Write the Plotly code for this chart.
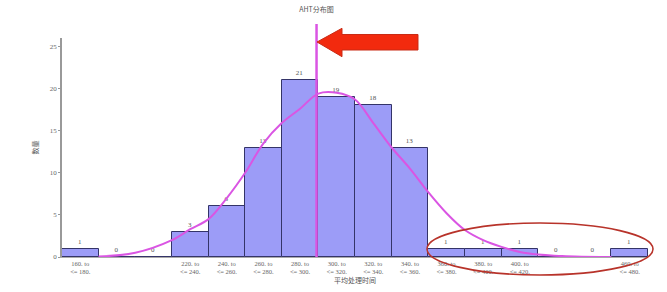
import plotly.graph_objects as go

# ---- data ----
bin_starts = [160, 180, 200, 220, 240, 260, 280, 300, 320, 340, 360, 380, 400, 420, 440, 460]
bin_width = 20
counts = [1, 0, 0, 3, 6, 13, 21, 19, 18, 13, 1, 1, 1, 0, 0, 1]

curve_x = [180, 200, 220, 230, 240, 250, 260, 270, 280, 290, 300, 310, 320, 330, 340,
           350, 360, 370, 380, 390, 400, 410, 420, 440, 460]
curve_y = [0.05, 0.5, 2.0, 3.3, 4.5, 7.0, 10.0, 13.5, 15.9, 17.6, 19.4, 19.5, 18.7, 15.9, 13.0,
           10.5, 7.7, 5.2, 3.2, 2.0, 1.2, 0.6, 0.3, 0.05, 0.0]

mean_value = 299
y_ticks = [0, 5, 10, 15, 20, 25]

centers = [s + bin_width / 2 for s in bin_starts]
tick_vals = [c for c, n in zip(centers, counts) if n > 0]
tick_text = [f"{s}. to<br><= {s + bin_width}." for s, n in zip(bin_starts, counts) if n > 0]

serif = "Liberation Serif, DejaVu Serif, serif"
cjk = "Noto Sans CJK SC, sans-serif"

fig = go.Figure()
fig.add_trace(go.Bar(
    x=centers, y=counts, width=bin_width,
    marker=dict(color="#9c9cf7", line=dict(color="#343468", width=1)),
    text=[str(n) for n in counts], textposition="outside",
    textfont=dict(family=serif, size=7, color="#555"),
    cliponaxis=False, hoverinfo="skip",
))
fig.add_trace(go.Scatter(
    x=curve_x, y=curve_y, mode="lines", line=dict(color="#da55e3", width=2, shape="spline"),
    hoverinfo="skip",
))

# plot area geometry (pixels)
L, R, T, B = 62, 19, 38, 35
W, H = 667, 292
pw, ph = W - L - R, H - T - B

def px(x):
    return (x - L) / pw

def py(y):
    return (H - B - y) / ph

# vertical mean line
fig.add_shape(type="line", xref="x", yref="paper", x0=mean_value, x1=mean_value,
              y0=0, y1=py(24), line=dict(color="#da55e3", width=2.5), layer="above")

# red arrow
pts = [(317, 42), (342, 28.3), (342, 34.5), (418, 34.5), (418, 50), (342, 50), (342, 56.7)]
path = "M " + " L ".join(f"{px(a):.4f},{py(b):.4f}" for a, b in pts) + " Z"
fig.add_shape(type="path", xref="paper", yref="paper", path=path,
              fillcolor="#f22a0e", line=dict(color="#c92a14", width=1), layer="above")

# red ellipse
fig.add_shape(type="circle", xref="paper", yref="paper",
              x0=px(427), x1=px(653), y0=py(275), y1=py(223),
              line=dict(color="#b8332a", width=1.6), layer="above")

fig.update_layout(
    width=W, height=H,
    margin=dict(l=L, r=R, t=T, b=B),
    paper_bgcolor="white", plot_bgcolor="white",
    showlegend=False, bargap=0,
    title=dict(text="AHT分布图", x=px(340), xanchor="center", y=1 - 10 / H, yanchor="middle",
               font=dict(family=cjk, size=7, color="#555")),
    xaxis=dict(range=[160, 480], tickvals=tick_vals, ticktext=tick_text, automargin=False,
               tickfont=dict(family=serif, size=6.5, color="#666"),
               showgrid=False, zeroline=False, showline=True, linecolor="#aaa", linewidth=1,
               ticks="", ticklen=0,
               title=dict(text="平均处理时间", font=dict(family=cjk, size=7, color="#555"), standoff=2)),
    yaxis=dict(range=[0, 26], tickvals=y_ticks, automargin=False,
               tickfont=dict(family=serif, size=7, color="#666"),
               showgrid=False, zeroline=False, showline=True, linecolor="#999", linewidth=1.5,
               ticks="outside", ticklen=2, tickcolor="#999",
               title=dict(text="数量", font=dict(family=cjk, size=7, color="#555"), standoff=10)),
)

fig.write_html("out.html")
